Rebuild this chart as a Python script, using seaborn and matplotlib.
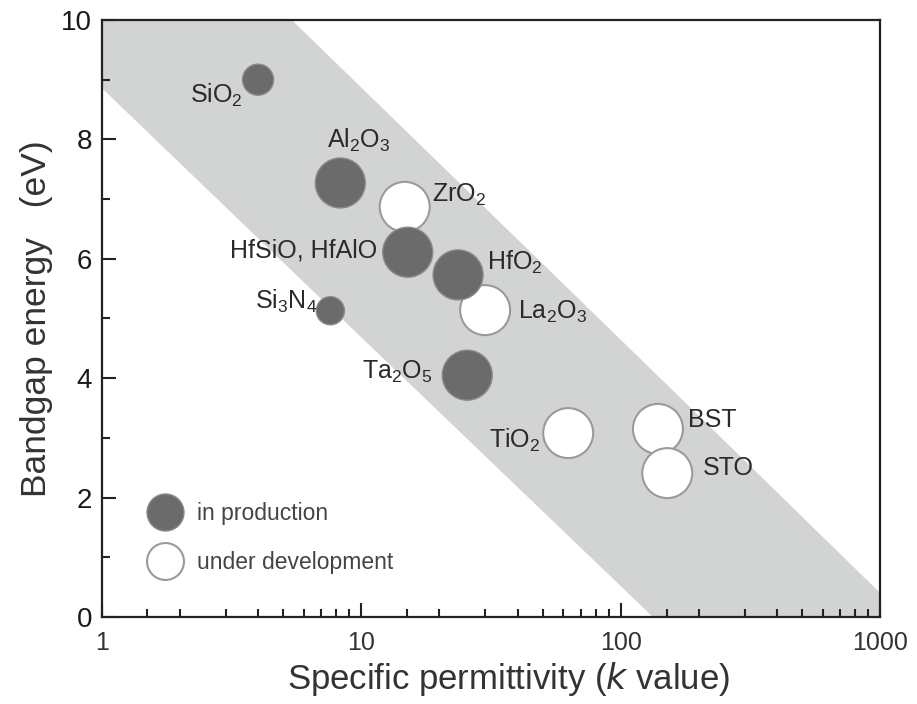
import numpy as np
import pandas as pd
import seaborn as sns
import matplotlib.pyplot as plt
from matplotlib.lines import Line2D
from matplotlib.ticker import LogLocator, FixedLocator, NullFormatter

# Data
compounds = ["ZrO$_2$", "La$_2$O$_3$", "TiO$_2$", "BST", "STO",
             "SiO$_2$", "Al$_2$O$_3$", "HfSiO, HfAlO", "Si$_3$N$_4$", "HfO$_2$", "Ta$_2$O$_5$"]
k_value = [14.7, 30.0, 62.7, 139, 151,
           4.0, 8.3, 15.1, 7.6, 23.6, 25.6]
bandgap = [6.87, 5.14, 3.08, 3.15, 2.41,
           9.0, 7.27, 6.11, 5.13, 5.73, 4.05]
status = ["under development"] * 5 + ["in production"] * 6

# shaded band (edges)
band_k = [1, 5.4, 133, 1000]
band_top = [10, 10, 4.12, 0.4]
band_bottom = [8.86, 5.80, 0, 0]

df = pd.DataFrame({"name": compounds, "k": k_value, "Eg": bandgap, "status": status})

# marker areas (pt^2); most circles are the large size
small_area = {"SiO$_2$": 500, "Si$_3$N$_4$": 410}
df["area"] = [small_area.get(n, 1296) for n in df["name"]]

# label offsets in pixels (dx right, dy down) and alignment
label_pos = {
    "SiO$_2$": (-15, 16, "right"),
    "Al$_2$O$_3$": (18, -43, "center"),
    "ZrO$_2$": (27, -12, "left"),
    "HfSiO, HfAlO": (-30, -2, "right"),
    "HfO$_2$": (29, -13, "left"),
    "La$_2$O$_3$": (33, 2, "left"),
    "Si$_3$N$_4$": (-13, -9, "right"),
    "Ta$_2$O$_5$": (-35, -3, "right"),
    "TiO$_2$": (-28, 7, "right"),
    "BST": (30, -9, "left"),
    "STO": (36, -5, "left"),
}

sns.set_style("ticks")
plt.rcParams["font.family"] = ["Liberation Sans", "DejaVu Sans"]
plt.rcParams["mathtext.default"] = "regular"

fig = plt.figure(figsize=(9.17, 7.04), dpi=100)
ax = fig.add_axes([0.111, 0.1236, 0.849, 0.848])
ax.set_xscale("log")

ax.fill_between(band_k, band_bottom, band_top, color="#d2d4d4", lw=0, zorder=0)

styles = {
    "under development": dict(color="white", edgecolor="#9a9a9a", linewidth=1.5),
    "in production": dict(color="#6b6b6b", edgecolor="#8a8a8a", linewidth=1.0),
}
for st in ["under development", "in production"]:
    sub = df[df["status"] == st]
    sns.scatterplot(data=sub, x="k", y="Eg", size="area", sizes=(410, 1296),
                    size_norm=(410, 1296), legend=False, ax=ax, zorder=3,
                    **styles[st])

for _, row in df.iterrows():
    dx, dy, ha = label_pos[row["name"]]
    ax.annotate(row["name"], (row["k"], row["Eg"]), xytext=(dx * 0.72, -dy * 0.72),
                textcoords="offset points", ha=ha, va="center",
                fontsize=18, color="#2a2a2a", zorder=4)

ax.set_xlim(1, 1000)
ax.set_ylim(0, 10)
ax.xaxis.set_major_locator(FixedLocator([1, 10, 100, 1000]))
ax.set_xticklabels(["1", "10", "100", "1000"])
ax.xaxis.set_minor_locator(LogLocator(base=10, subs=[1.5, 2, 3, 4, 5, 6, 7, 8, 9]))
ax.xaxis.set_minor_formatter(NullFormatter())
ax.set_yticks([0, 2, 4, 6, 8, 10])
ax.set_yticks([1, 3, 5, 7, 9], minor=True)

ax.tick_params(axis="both", which="major", direction="in", length=10, width=1.5,
               color="#222222")
ax.tick_params(axis="both", which="minor", direction="in", length=6, width=1.5,
               color="#222222")
ax.tick_params(axis="x", which="major", labelsize=18, pad=10, labelcolor="#333333")
ax.tick_params(axis="y", which="major", labelsize=20, pad=7, labelcolor="#1a1a1a")
for sp in ax.spines.values():
    sp.set_linewidth(1.6)
    sp.set_color("#222222")

ax.set_xlabel("Specific permittivity ($\\mathit{k}$ value)", fontsize=25,
              color="#333333")
ax.xaxis.set_label_coords(0.522, -0.072)
ax.set_ylabel("Bandgap energy   (eV)", fontsize=25.5, color="#333333", labelpad=6)

handles = [
    Line2D([], [], ls="", marker="o", markersize=26.6, markerfacecolor="#6b6b6b",
           markeredgecolor="#8a8a8a", markeredgewidth=1.0),
    Line2D([], [], ls="", marker="o", markersize=26.6, markerfacecolor="white",
           markeredgecolor="#9a9a9a", markeredgewidth=1.5),
]
leg = ax.legend(handles, ["in production", "under development"], loc="upper left",
                bbox_to_anchor=(0.058, 0.192), frameon=False, fontsize=16.5,
                handlelength=1.55, handletextpad=0.63, labelspacing=1.12,
                borderpad=0, borderaxespad=0)
for t in leg.get_texts():
    t.set_color("#444444")

fig.savefig("out.png", dpi=100)
